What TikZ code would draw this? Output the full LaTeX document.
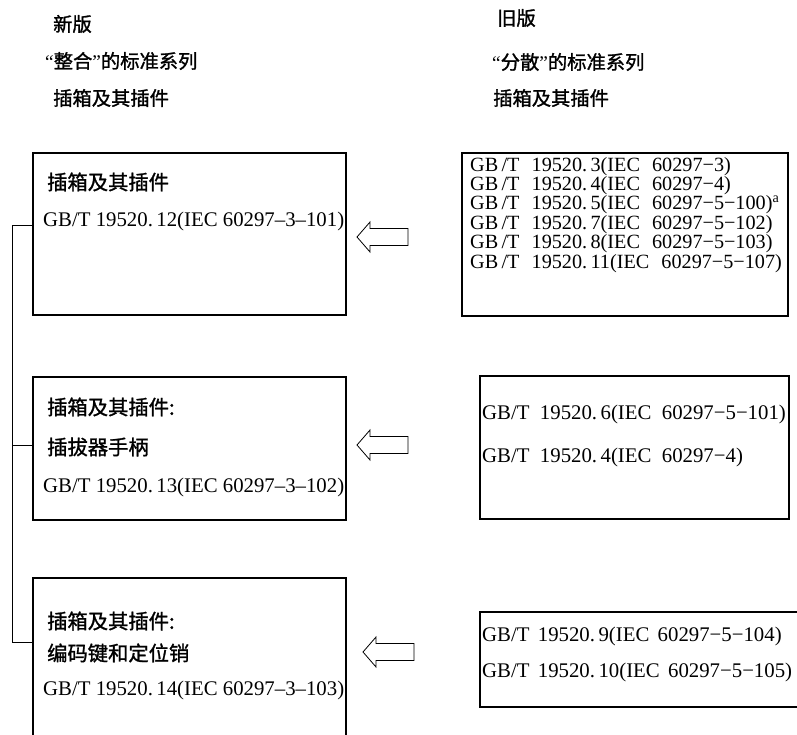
\documentclass[tikz,border=0pt]{standalone}
\usepackage{fontspec}
\setmainfont{Liberation Serif}
\newfontfamily\cjk[FakeBold=1.3]{Noto Sans CJK SC}
\begin{document}
\begin{tikzpicture}[x=1pt,y=-1pt,
  box/.style={draw, line width=2.5pt, inner sep=0pt, outer sep=0pt, anchor=north west},
  conn/.style={line width=0.9pt},
  zh/.style={anchor=west, inner sep=0pt, font=\cjk\fontsize{20.3}{20.3}\selectfont},
  zhh/.style={anchor=west, inner sep=0pt, font=\cjk\fontsize{19.3}{19.3}\selectfont},
  la/.style={anchor=west, inner sep=0pt, font=\fontsize{20.8}{20.8}\selectfont},
  lam/.style={anchor=north west, inner sep=0pt, align=left, font=\fontsize{20.2}{18}\selectfont},
  pics/blockarrow/.style={code={
    \draw[line width=0.8pt] (0,0) -- (13,-15) -- (13,-8.5) -- (51,-8.5) -- (51,8.5) -- (13,8.5) -- (13,15) -- cycle;}}
]
\useasboundingbox (0,0) rectangle (797,735);
\clip (0,0) rectangle (797,735);

% headers
\node[zhh] (h1) at (53,24) {新版};
\node[zhh] (h2) at (45,61) {{\rmfamily “}整合{\rmfamily ”}的标准系列};
\node[zhh] (h3) at (53,98) {插箱及其插件};
\node[zhh] (h4) at (497,18) {旧版};
\node[zhh] (h5) at (492,62) {{\rmfamily “}分散{\rmfamily ”}的标准系列};
\node[zhh] (h6) at (493,98) {插箱及其插件};

% left boxes
\node[box, minimum width=313pt, minimum height=162pt] (L1) at (33,153) {};
\node[box, minimum width=313pt, minimum height=143pt] (L2) at (33,377) {};
\node[box, minimum width=313pt, minimum height=200pt] (L3) at (33,578) {};

\node[zh] (t11) at (47,182) {插箱及其插件};
\node[la] (t12) at (43,221) {GB/T 19520.\,12(IEC 60297–3–101)};
\node[zh] (t21) at (47,407) {插箱及其插件:};
\node[zh] (t22) at (47,447) {插拔器手柄};
\node[la] (t23) at (43,487) {GB/T 19520.\,13(IEC 60297–3–102)};
\node[zh] (t31) at (47,621) {插箱及其插件:};
\node[zh] (t32) at (47,653) {编码键和定位销};
\node[la] (t33) at (43,690) {GB/T 19520.\,14(IEC 60297–3–103)};

% right boxes
\node[box, minimum width=326pt, minimum height=163pt] (R1) at (462,153) {};
\node[box, minimum width=309pt, minimum height=143pt] (R2) at (480,376) {};
\node[box, minimum width=340pt, minimum height=95pt] (R3) at (480,612) {};

\node[lam] (r1) at (470,157) {GB\,/T\hspace{0.6em}19520.\,3(IEC\hspace{0.6em}60297−3)\\
GB\,/T\hspace{0.6em}19520.\,4(IEC\hspace{0.6em}60297−4)\\
GB\,/T\hspace{0.6em}19520.\,5(IEC\hspace{0.6em}60297−5−100)\textsuperscript{a}\\
GB\,/T\hspace{0.6em}19520.\,7(IEC\hspace{0.6em}60297−5−102)\\
GB\,/T\hspace{0.6em}19520.\,8(IEC\hspace{0.6em}60297−5−103)\\[1pt]
GB\,/T\hspace{0.6em}19520.\,11(IEC\hspace{0.6em}60297−5−107)};

\node[la] (r21) at (482,414) {GB/T\hspace{0.5em}19520.\,6(IEC\hspace{0.5em}60297−5−101)};
\node[la] (r22) at (482,457) {GB/T\hspace{0.5em}19520.\,4(IEC\hspace{0.5em}60297−4)};

\node[la] (r31) at (482,636) {GB/T\hspace{0.4em}19520.\,9(IEC\hspace{0.4em}60297−5−104)};
\node[la] (r32) at (482,672) {GB/T\hspace{0.4em}19520.\,10(IEC\hspace{0.4em}60297−5−105)};

% block arrows
\pic at (357,237) {blockarrow};
\pic at (357,445) {blockarrow};
\pic at (363,652) {blockarrow};

% bracket connector
\path (L1.north west) ++(0,72) coordinate (j1);
\path (L2.north west) ++(0,68) coordinate (j2);
\path (L3.north west) ++(0,64) coordinate (j3);
\draw[conn] (j1) -- ++(-21,0) coordinate (k1) |- (j3);
\draw[conn] (j2) -- (k1 |- j2);
\end{tikzpicture}
\end{document}
